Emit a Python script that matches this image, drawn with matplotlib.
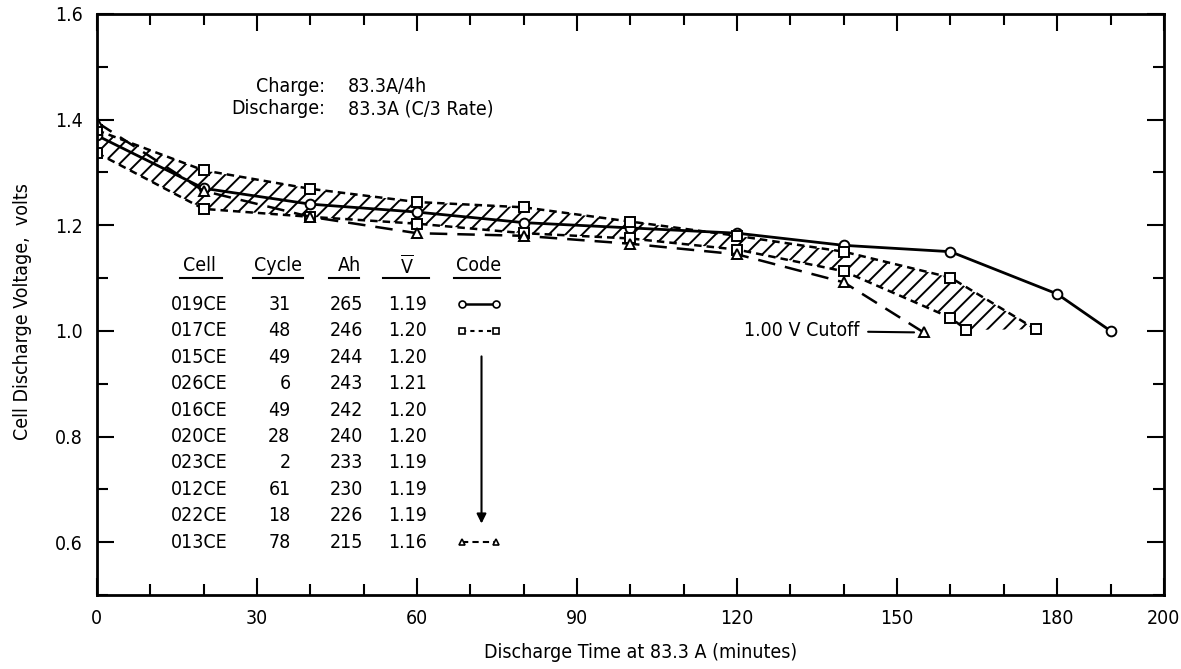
import numpy as np
import matplotlib.pyplot as plt
from matplotlib.ticker import MultipleLocator

plt.rcParams['font.family'] = ['DejaVu Sans']
plt.rcParams['font.stretch'] = 'condensed'
plt.rcParams['hatch.linewidth'] = 1.4
plt.rcParams['mathtext.fontset'] = 'dejavusans'

# discharge curves (minutes, volts)
t_019 = [0, 20, 40, 60, 80, 100, 120, 140, 160, 180, 190]
v_019 = [1.37, 1.27, 1.24, 1.225, 1.205, 1.195, 1.185, 1.162, 1.15, 1.07, 1.0]

# upper and lower edge of the hatched band (squares)
t_hi = [0, 20, 40, 60, 80, 100, 120, 140, 160, 176]
v_hi = [1.38, 1.304, 1.269, 1.244, 1.234, 1.207, 1.18, 1.15, 1.101, 1.003]
t_lo = [0, 20, 40, 60, 80, 100, 120, 140, 160, 163]
v_lo = [1.337, 1.231, 1.216, 1.203, 1.185, 1.175, 1.154, 1.113, 1.025, 1.002]

t_013 = [0, 20, 40, 60, 80, 100, 120, 140, 155]
v_013 = [1.395, 1.265, 1.216, 1.185, 1.18, 1.165, 1.145, 1.092, 0.997]

# table
cells = ['019CE', '017CE', '015CE', '026CE', '016CE', '020CE', '023CE', '012CE', '022CE', '013CE']
cycles = [31, 48, 49, 6, 49, 28, 2, 61, 18, 78]
ah = [265, 246, 244, 243, 242, 240, 233, 230, 226, 215]
vbar = ['1.19', '1.20', '1.20', '1.21', '1.20', '1.20', '1.19', '1.19', '1.19', '1.16']

x_ticks = [0, 30, 60, 90, 120, 150, 180, 200]
y_ticks = [0.6, 0.8, 1.0, 1.2, 1.4, 1.6]

fig = plt.figure(figsize=(11.81, 6.69), dpi=100)
ax = fig.add_axes([0.082, 0.1106, 0.9035, 0.8685])

mk = dict(markersize=7, markerfacecolor='white', markeredgecolor='black', markeredgewidth=1.4)

# hatched band between the two square curves
ax.fill(np.concatenate([t_hi, t_lo[::-1]]), np.concatenate([v_hi, v_lo[::-1]]),
        facecolor='none', edgecolor='black', hatch='//', linewidth=0)

ax.plot(t_019, v_019, color='black', lw=2.0, marker='o', **mk)
ax.plot(t_hi, v_hi, color='black', lw=1.8, ls=(0, (3, 2)), marker='s', **mk)
ax.plot(t_lo, v_lo, color='black', lw=1.8, ls=(0, (3, 2)), marker='s', **mk)
ax.plot(t_013, v_013, color='black', lw=1.8, ls=(0, (7, 4)), marker='^', **mk)

ax.annotate('1.00 V Cutoff', xy=(t_013[-1], v_013[-1]), xytext=(143, 1.0),
            ha='right', va='center', fontsize=14,
            arrowprops=dict(arrowstyle='-', lw=1.5, color='black', shrinkA=4, shrinkB=7))

ax.text(42.7, 1.462, 'Charge:', ha='right', va='center', fontsize=14)
ax.text(47.0, 1.462, '83.3A/4h', ha='left', va='center', fontsize=14)
ax.text(42.7, 1.421, 'Discharge:', ha='right', va='center', fontsize=14)
ax.text(47.0, 1.421, '83.3A (C/3 Rate)', ha='left', va='center', fontsize=14)

# table in the lower left
head_y = 1.123
row_y = 1.05
row_step = 0.05
col_cell, col_cycle, col_ah, col_v, col_code = 19.2, 36.3, 46.8, 58.2, 71.6
heads = [('Cell', col_cell, 15.5, 23.4), ('Cycle', 33.9, 29.2, 38.6), ('Ah', 47.3, 43.6, 49.1),
         (r'$\overline{\mathrm{V}}$', col_v, 53.7, 62.2), ('Code', col_code, 66.9, 75.5)]
for label, xc, x0, x1 in heads:
    ax.text(xc, head_y, label, ha='center', va='center', fontsize=14)
    ax.plot([x0, x1], [head_y - 0.022, head_y - 0.022], color='black', lw=1.5)

for i in range(len(cells)):
    y = row_y - i * row_step
    ax.text(col_cell, y, cells[i], ha='center', va='center', fontsize=14)
    ax.text(col_cycle, y, str(cycles[i]), ha='right', va='center', fontsize=14)
    ax.text(col_ah, y, str(ah[i]), ha='center', va='center', fontsize=14)
    ax.text(col_v, y, vbar[i], ha='center', va='center', fontsize=14)

sk = dict(markersize=5, markerfacecolor='white', markeredgecolor='black', markeredgewidth=1.2)
ax.plot([68.4, 74.9], [row_y, row_y], color='black', lw=1.8, marker='o', **sk)
ax.plot([68.4, 74.9], [row_y - row_step] * 2, color='black', lw=1.5, ls=(0, (2, 2)), marker='s', **sk)
ax.plot([68.4, 74.9], [row_y - 9 * row_step] * 2, color='black', lw=1.5, ls=(0, (3, 2)), marker='^', **sk)
ax.annotate('', xy=(72.1, 0.63), xytext=(72.1, 0.957),
            arrowprops=dict(arrowstyle='-|>', lw=1.5, color='black', mutation_scale=14))

ax.set_xlim(0, 200)
ax.set_ylim(0.5, 1.6)
ax.set_xticks(x_ticks)
ax.set_xticklabels([str(v) for v in x_ticks])
ax.set_yticks(y_ticks)
ax.set_yticklabels(['%.1f' % v for v in y_ticks])
ax.xaxis.set_minor_locator(MultipleLocator(10))
ax.yaxis.set_minor_locator(MultipleLocator(0.1))
ax.tick_params(which='both', direction='in', top=True, right=True, width=1.5, labelsize=14)
ax.tick_params(which='major', length=12, pad=10)
ax.tick_params(which='minor', length=8)
for s in ax.spines.values():
    s.set_linewidth(2)

fig.text(0.019, 0.535, 'Cell Discharge Voltage,  volts', rotation=90, ha='center', va='center', fontsize=14)
fig.text(0.542, 0.024, 'Discharge Time at 83.3 A (minutes)', ha='center', va='center', fontsize=14)

fig.savefig('out.png', dpi=100)
